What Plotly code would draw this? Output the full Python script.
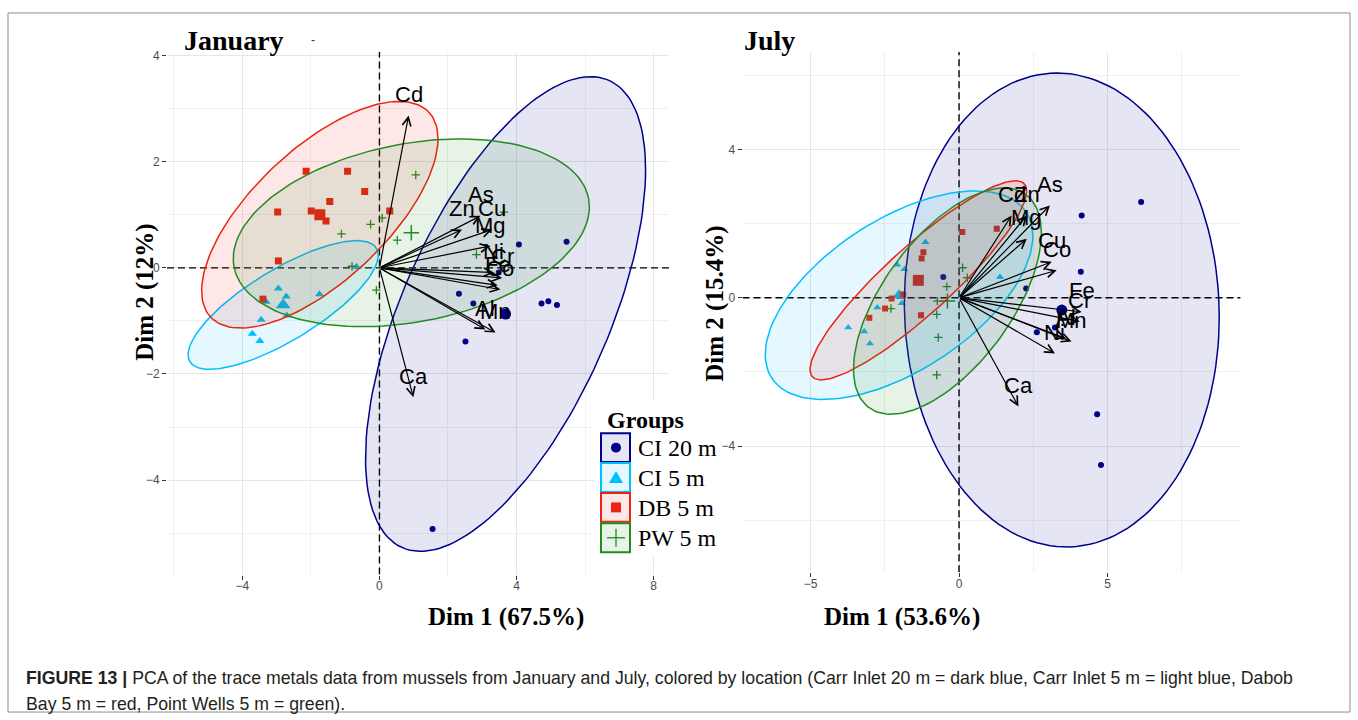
import numpy as np
import plotly.graph_objects as go

W, H = 1358, 720

# ---------------- data ----------------
groups = ["CI 20 m", "CI 5 m", "DB 5 m", "PW 5 m"]
colors = ["#00008B", "#00BFFF", "#EE2211", "#228B22"]
fills = ["rgba(0,0,139,0.10)", "rgba(0,191,255,0.10)", "rgba(238,34,17,0.10)", "rgba(34,139,34,0.10)"]
symbols = ["circle", "triangle-up", "square", "cross-thin"]

# January individuals (Dim1, Dim2)
jan_ci20_x = [4.07, 5.46, 3.48, 2.32, 2.74, 4.73, 4.93, 5.18, 2.51, 1.55]
jan_ci20_y = [0.44, 0.49, -0.09, -0.49, -0.67, -0.67, -0.63, -0.70, -1.39, -4.92]
jan_ci5_x = [-2.95, -2.72, -3.31, -1.75, -3.45, -2.70, -3.71, -3.49, -0.67]
jan_ci5_y = [-0.39, -0.54, -0.64, -0.50, -0.98, -0.90, -1.24, -1.38, 0.02]
jan_db5_x = [-2.14, -0.93, -0.43, -1.45, -2.97, -1.99, -1.56, 0.30, -2.95, -3.40]
jan_db5_y = [1.82, 1.82, 1.44, 1.25, 1.05, 1.07, 0.88, 1.07, 0.13, -0.59]
jan_pw5_x = [1.06, -0.26, 0.08, -1.11, 0.52, -0.80, 2.83, 3.63, -0.09]
jan_pw5_y = [1.75, 0.82, 0.94, 0.64, 0.52, 0.03, 0.25, 1.05, -0.42]
jan_mean_x = [3.68, -2.81, -1.74, 0.93]
jan_mean_y = [-0.87, -0.70, 1.00, 0.66]
# January concentration ellipses (variance x, variance y, covariance)
jan_ell_sxx = [16.7, 7.7, 11.9, 27.0]
jan_ell_syy = [20.0, 1.47, 4.56, 3.13]
jan_ell_sxy = [11.1, 2.6, 4.94, 2.53]

# July individuals
jul_ci20_x = [4.13, 6.13, 4.10, 2.26, 3.23, 2.62, -0.53, 4.65, 4.78]
jul_ci20_y = [2.22, 2.58, 0.70, 0.25, -0.80, -0.93, 0.56, -3.14, -4.51]
jul_ci5_x = [-1.13, -2.08, -1.84, -1.93, -2.75, -3.73, -3.19, -3.00, 1.38]
jul_ci5_y = [1.50, 0.89, 0.77, -0.15, -0.26, -0.80, -0.91, -1.23, 0.56]
jul_db5_x = [-1.20, -1.26, -1.88, -2.27, -2.49, -3.02, -1.28, 0.11, 1.27]
jul_db5_y = [1.23, 1.06, 0.09, -0.02, -0.29, -0.54, -0.47, 1.77, 1.86]
jul_pw5_x = [-0.41, -0.73, -0.75, -0.70, -0.75, -2.29, 0.12, 0.28]
jul_pw5_y = [0.30, -0.09, -0.45, -1.07, -2.08, -0.29, 0.81, 0.54]
jul_mean_x = [3.46, -2.02, -1.37, -0.39]
jul_mean_y = [-0.33, 0.07, 0.47, -0.09]
jul_ell_sxx = [28.1, 20.3, 13.3, 10.0]
jul_ell_syy = [40.8, 7.9, 7.2, 9.3]
jul_ell_sxy = [-1.0, 7.2, 8.77, 5.8]

# variable loadings (arrow tips)
var_names = ["As", "Zn", "Cu", "Mg", "Ni", "Cr", "Fe", "Co", "Al", "Mn", "Cd", "Ca"]
jan_var_x = [2.95, 2.41, 3.29, 3.24, 3.34, 3.58, 3.45, 3.53, 3.09, 3.39, 0.85, 0.99]
jan_var_y = [0.98, 0.72, 0.72, 0.41, -0.09, -0.19, -0.33, -0.41, -1.16, -1.22, 2.87, -2.44]
jul_var_x = [3.06, 2.28, 3.12, 2.28, 3.23, 4.07, 4.13, 3.29, 3.60, 3.79, 1.77, 2.00]
jul_var_y = [2.49, 2.22, 0.97, 1.59, -1.50, -0.64, -0.38, 0.74, -1.10, -1.18, 2.22, -2.93]

panel_titles = ["January", "July"]
x_titles = ["Dim 1 (67.5%)", "Dim 1 (53.6%)"]
y_titles = ["Dim 2 (12%)", "Dim 2 (15.4%)"]

caption_1 = ("<b>FIGURE 13 |</b> PCA of the trace metals data from mussels from January and July, colored by location "
             "(Carr Inlet 20 m = dark blue, Carr Inlet 5 m = light blue, Dabob")
caption_2 = "Bay 5 m = red, Point Wells 5 m = green)."

# axis ranges
jan_xrange = [-6.2, 8.45]
jan_yrange = [-5.78, 4.07]
jul_xrange = [-7.29, 9.48]
jul_yrange = [-7.4, 6.63]

# ---------------- helpers ----------------
SANS = "Liberation Sans, Arial, sans-serif"
SERIF = "Liberation Serif, Times New Roman, serif"


def px(x):
    return x / W


def py(y):
    return 1 - y / H


def ellipse_xy(cx, cy, sxx, syy, sxy, n=150):
    L = np.linalg.cholesky(np.array([[sxx, sxy], [sxy, syy]]))
    t = np.linspace(0, 2 * np.pi, n)
    pts = L @ np.vstack([np.cos(t), np.sin(t)])
    return cx + pts[0], cy + pts[1]


fig = go.Figure()

panels = [
    dict(xa="x", ya="y", xr=jan_xrange, yr=jan_yrange,
         pts=[(jan_ci20_x, jan_ci20_y), (jan_ci5_x, jan_ci5_y), (jan_db5_x, jan_db5_y), (jan_pw5_x, jan_pw5_y)],
         mx=jan_mean_x, my=jan_mean_y, sxx=jan_ell_sxx, syy=jan_ell_syy, sxy=jan_ell_sxy,
         vx=jan_var_x, vy=jan_var_y,
         sizes=[6, 8, 7, 6], msizes=[11, 13, 11, 11]),
    dict(xa="x2", ya="y2", xr=jul_xrange, yr=jul_yrange,
         pts=[(jul_ci20_x, jul_ci20_y), (jul_ci5_x, jul_ci5_y), (jul_db5_x, jul_db5_y), (jul_pw5_x, jul_pw5_y)],
         mx=jul_mean_x, my=jul_mean_y, sxx=jul_ell_sxx, syy=jul_ell_syy, sxy=jul_ell_sxy,
         vx=jul_var_x, vy=jul_var_y,
         sizes=[6, 7, 6, 6], msizes=[11, 12, 11, 11]),
]

annotations = []
shapes = []

for p in panels:
    # dashed zero reference lines
    dash_line = dict(color="black", width=1.4, dash="7px,4px")
    fig.add_trace(go.Scatter(x=[0, 0], y=p["yr"], mode="lines", line=dash_line, xaxis=p["xa"], yaxis=p["ya"],
                             showlegend=False, hoverinfo="skip"))
    fig.add_trace(go.Scatter(x=p["xr"], y=[0, 0], mode="lines", line=dash_line, xaxis=p["xa"], yaxis=p["ya"],
                             showlegend=False, hoverinfo="skip"))
    for g in range(4):
        xs, ys = p["pts"][g]
        mk = dict(symbol=symbols[g], size=p["sizes"][g], color=colors[g])
        mkm = dict(symbol=symbols[g], size=p["msizes"][g], color=colors[g])
        if symbols[g] == "cross-thin":
            mk["line"] = dict(color=colors[g], width=1.3)
            mkm["line"] = dict(color=colors[g], width=1.5)
        fig.add_trace(go.Scatter(x=xs, y=ys, mode="markers", marker=mk, xaxis=p["xa"], yaxis=p["ya"],
                                 showlegend=False, hoverinfo="skip"))
        fig.add_trace(go.Scatter(x=[p["mx"][g]], y=[p["my"][g]], mode="markers", marker=mkm,
                                 xaxis=p["xa"], yaxis=p["ya"], showlegend=False, hoverinfo="skip"))
    for g in range(4):
        ex, ey = ellipse_xy(p["mx"][g], p["my"][g], p["sxx"][g], p["syy"][g], p["sxy"][g])
        fig.add_trace(go.Scatter(x=ex, y=ey, mode="lines", fill="toself", fillcolor=fills[g],
                                 line=dict(color=colors[g], width=1.5), xaxis=p["xa"], yaxis=p["ya"],
                                 showlegend=False, hoverinfo="skip"))
    # arrows and labels
    for name, vx, vy in zip(var_names, p["vx"], p["vy"]):
        annotations.append(dict(x=vx, y=vy, ax=0, ay=0, xref=p["xa"], yref=p["ya"], axref=p["xa"], ayref=p["ya"],
                                text="", showarrow=True, arrowhead=5, arrowsize=1.4, arrowwidth=1.2,
                                arrowcolor="black", standoff=0, startstandoff=0))
        annotations.append(dict(x=vx, y=vy, xref=p["xa"], yref=p["ya"], text=name, showarrow=False,
                                yshift=21, font=dict(family=SANS, size=22, color="black")))


def ann(x, y, text, font, **kw):
    d = dict(x=px(x), y=py(y), xref="paper", yref="paper", showarrow=False, text=text, font=font,
             yanchor="middle")
    d.update(kw)
    return d


title_font = dict(family=SERIF, size=28, color="black")
axt_font = dict(family=SERIF, size=25, color="black")
leg_font = dict(family=SERIF, size=24, color="black")
annotations += [
    ann(182, 38, "<b>" + panel_titles[0] + "</b>", title_font, xanchor="left"),
    ann(309, 37, "-", dict(family=SANS, size=12, color="#333333")),
    ann(742, 38, "<b>" + panel_titles[1] + "</b>", title_font, xanchor="left"),
    ann(426, 617, "<b>" + x_titles[0] + "</b>", axt_font),
    ann(982, 617, "<b>" + x_titles[1] + "</b>", axt_font),
    ann(129, 291, "<b>" + y_titles[0] + "</b>", axt_font, textangle=-90),
    ann(715, 302, "<b>" + y_titles[1] + "</b>", axt_font, textangle=-90),
]

# manual legend
shapes.append(dict(type="rect", xref="paper", yref="paper", x0=px(594), x1=px(700), y0=py(556), y1=py(400),
                   fillcolor="white", line=dict(width=0), layer="above"))
annotations.append(ann(605, 419, "<b>Groups</b>", leg_font, xanchor="left"))
box_top = [432, 462, 492, 522.5]
for g in range(4):
    t = box_top[g]
    cy = t + 14.5
    shapes.append(dict(type="rect", xref="paper", yref="paper", x0=px(601), x1=px(630), y0=py(t + 29), y1=py(t),
                       fillcolor=fills[g], line=dict(color=colors[g], width=2), layer="above"))
    cx = 616
    if g == 0:
        shapes.append(dict(type="circle", xref="paper", yref="paper", x0=px(cx - 5), x1=px(cx + 5),
                           y0=py(cy + 5), y1=py(cy - 5), fillcolor=colors[g], line=dict(width=0), layer="above"))
    elif g == 1:
        path = "M {:.5f},{:.5f} L {:.5f},{:.5f} L {:.5f},{:.5f} Z".format(
            px(cx - 7), py(cy + 5.5), px(cx + 7), py(cy + 5.5), px(cx), py(cy - 6.5))
        shapes.append(dict(type="path", xref="paper", yref="paper", path=path, fillcolor=colors[g],
                           line=dict(width=0), layer="above"))
    elif g == 2:
        shapes.append(dict(type="rect", xref="paper", yref="paper", x0=px(cx - 5), x1=px(cx + 5),
                           y0=py(cy + 5), y1=py(cy - 5), fillcolor=colors[g], line=dict(width=0), layer="above"))
    else:
        shapes.append(dict(type="line", xref="paper", yref="paper", x0=px(cx - 9), x1=px(cx + 9),
                           y0=py(cy), y1=py(cy), line=dict(color=colors[g], width=1.3), layer="above"))
        shapes.append(dict(type="line", xref="paper", yref="paper", x0=px(cx), x1=px(cx),
                           y0=py(cy + 9), y1=py(cy - 9), line=dict(color=colors[g], width=1.3), layer="above"))
    annotations.append(ann(636, cy + 0.5, groups[g], leg_font, xanchor="left"))

# caption and frame
cap_font = dict(family=SANS, size=17.7, color="#231f20")
annotations += [
    ann(24, 678, caption_1, cap_font, xanchor="left"),
    ann(24, 704, caption_2, cap_font, xanchor="left"),
]
shapes.append(dict(type="rect", xref="paper", yref="paper", x0=px(8), x1=px(1350), y0=py(712), y1=py(10),
                   line=dict(color="#8c8c8c", width=1), layer="above"))

axis_common = dict(showline=False, zeroline=False, gridcolor="#e6e6e6", gridwidth=1,
                   ticks="outside", ticklen=4, tickwidth=1, tickcolor="#333333",
                   tickfont=dict(family=SANS, size=12, color="#4d4d4d"))

fig.update_layout(
    width=W, height=H,
    margin=dict(l=0, r=0, t=0, b=0),
    paper_bgcolor="white", plot_bgcolor="white",
    showlegend=False,
    xaxis=dict(domain=[px(167), px(669)], range=jan_xrange, tick0=0, dtick=4, ticklabelstandoff=-4,
               minor=dict(dtick=2, showgrid=True, gridcolor="#f0f0f0", gridwidth=0.8), anchor="y", **axis_common),
    yaxis=dict(domain=[py(574), py(49)], range=jan_yrange, tick0=0, dtick=2,
               minor=dict(dtick=1, showgrid=True, gridcolor="#f0f0f0", gridwidth=0.8), anchor="x", **axis_common),
    xaxis2=dict(domain=[px(742.5), px(1240.6)], range=jul_xrange, tick0=0, dtick=5, ticklabelstandoff=-4,
                minor=dict(dtick=2.5, showgrid=True, gridcolor="#f0f0f0", gridwidth=0.8), anchor="y2", **axis_common),
    yaxis2=dict(domain=[py(571.7), py(49)], range=jul_yrange, tick0=0, dtick=4,
                minor=dict(dtick=2, showgrid=True, gridcolor="#f0f0f0", gridwidth=0.8), anchor="x2", **axis_common),
    annotations=annotations,
    shapes=shapes,
)

fig.write_html("out.html", config={"displayModeBar": False},
               post_script="document.body.style.margin='0';")
